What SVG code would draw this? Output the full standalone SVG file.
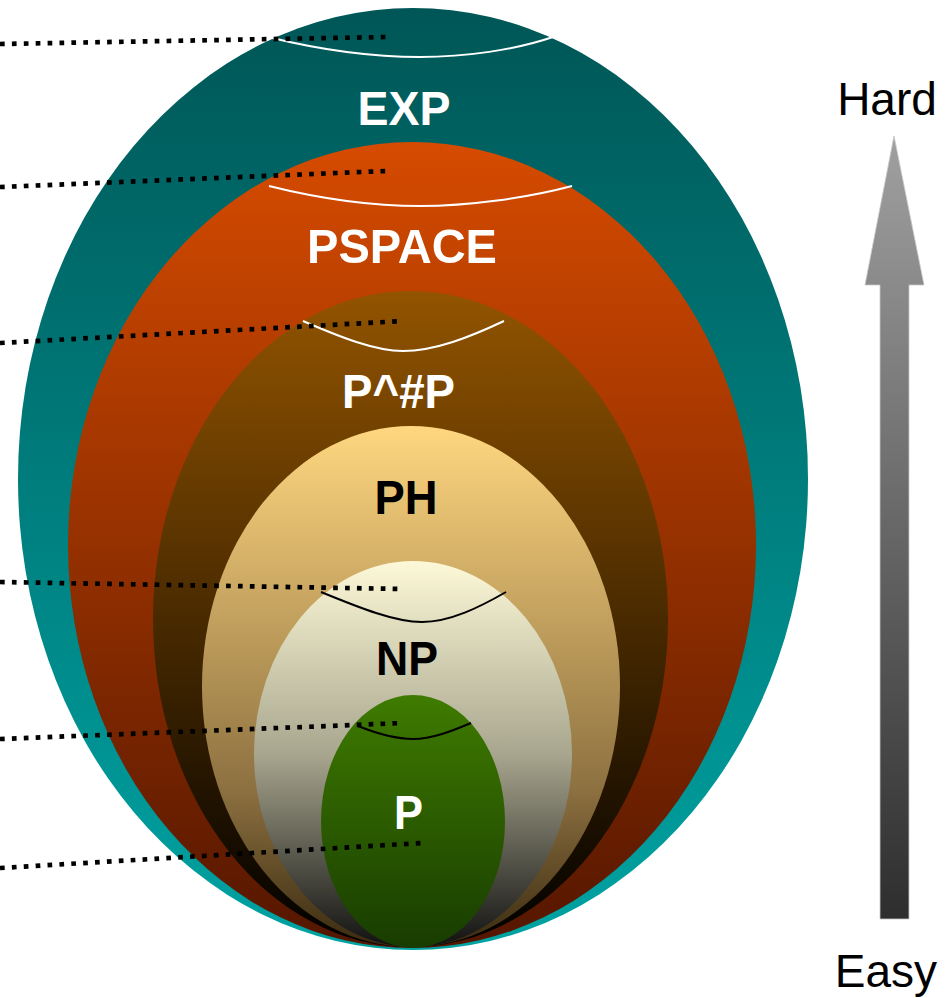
<svg xmlns="http://www.w3.org/2000/svg" width="952" height="998" viewBox="0 0 952 998">
<defs>
<linearGradient id="gExp" x1="0" y1="0" x2="0" y2="1"><stop offset="0" stop-color="#005656"/><stop offset="1" stop-color="#00a3a3"/></linearGradient>
<linearGradient id="gPs" x1="0" y1="0" x2="0" y2="1"><stop offset="0" stop-color="#d64b00"/><stop offset="1" stop-color="#541600"/></linearGradient>
<linearGradient id="gSp" x1="0" y1="0" x2="0" y2="1"><stop offset="0" stop-color="#925400"/><stop offset="1" stop-color="#000000"/></linearGradient>
<linearGradient id="gPh" x1="0" y1="0" x2="0" y2="1"><stop offset="0" stop-color="#ffd780"/><stop offset="0.7" stop-color="#8c7040"/><stop offset="1" stop-color="#3a2a10"/></linearGradient>
<linearGradient id="gNp" x1="0" y1="0" x2="0" y2="1"><stop offset="0" stop-color="#fdf9d8"/><stop offset="0.5" stop-color="#a8a68e"/><stop offset="1" stop-color="#111111"/></linearGradient>
<linearGradient id="gP" x1="0" y1="0" x2="0" y2="1"><stop offset="0" stop-color="#3f7b00"/><stop offset="1" stop-color="#183c00"/></linearGradient>
<linearGradient id="gArrow" gradientUnits="userSpaceOnUse" x1="0" y1="136" x2="0" y2="919"><stop offset="0" stop-color="#a0a0a0"/><stop offset="1" stop-color="#2e2e2e"/></linearGradient>
</defs>
<style>
.lbl{font-family:"Liberation Sans",Arial,sans-serif;font-weight:bold;font-size:49px;text-anchor:middle}
.w{fill:#ffffff}
.k{fill:#000000}
.side{font-family:"Liberation Sans",Arial,sans-serif;font-size:46px;text-anchor:middle;fill:#000000}
.bnd{fill:none;stroke-width:2}
.dot{stroke:#000000;stroke-width:4.7;stroke-dasharray:4.7 7.2;fill:none}
</style>
<rect width="952" height="998" fill="#ffffff"/>
<g id="exp"><ellipse cx="413" cy="479" rx="395" ry="471" fill="url(#gExp)"/></g>
<g id="pspace"><ellipse cx="412" cy="545" rx="344" ry="403" fill="url(#gPs)"/></g>
<g id="psharpp"><ellipse cx="410.5" cy="619" rx="257.5" ry="328" fill="url(#gSp)"/></g>
<g id="ph"><ellipse cx="411" cy="686.5" rx="209" ry="260.5" fill="url(#gPh)"/></g>
<g id="np"><ellipse cx="413" cy="754" rx="159" ry="193" fill="url(#gNp)"/></g>
<g id="p"><ellipse cx="413" cy="821.5" rx="92" ry="126.5" fill="url(#gP)"/></g>
<g id="boundaries">
<path class="bnd" stroke="#ffffff" d="M268,37 C325,51 375,57 420,57 C465,57 515,50 553,37"/>
<path class="bnd" stroke="#ffffff" d="M269,186 C325,200 375,206 420,206 C468,206 527,198 572,186"/>
<path class="bnd" stroke="#ffffff" d="M303,321 C340,337 375,351 403,351 C435,351 470,337 504,321"/>
<path class="bnd" stroke="#000000" d="M321,592 C360,608 395,622 422,622 C450,622 480,607 506,592"/>
<path class="bnd" stroke="#000000" d="M358,726 C378,734 395,739 413,739 C432,739 452,731 471,723"/>
</g>
<g id="labels">
<text class="lbl w" x="404" y="125" textLength="93" lengthAdjust="spacingAndGlyphs">EXP</text>
<text class="lbl w" x="402" y="263" textLength="190" lengthAdjust="spacingAndGlyphs">PSPACE</text>
<text class="lbl w" x="398.5" y="408" textLength="113" lengthAdjust="spacingAndGlyphs">P^#P</text>
<text class="lbl k" x="406" y="514" textLength="63" lengthAdjust="spacingAndGlyphs">PH</text>
<text class="lbl k" x="407" y="675" textLength="62" lengthAdjust="spacingAndGlyphs">NP</text>
<text class="lbl w" x="408.5" y="829" textLength="29" lengthAdjust="spacingAndGlyphs">P</text>
</g>
<g id="connectors">
<line class="dot" x1="0" y1="44" x2="386" y2="37"/>
<line class="dot" x1="0" y1="187" x2="386" y2="171"/>
<line class="dot" x1="0" y1="343" x2="403" y2="321"/>
<line class="dot" x1="0" y1="582" x2="403" y2="589"/>
<line class="dot" x1="0" y1="739" x2="404" y2="723"/>
<line class="dot" x1="0" y1="868" x2="422" y2="843"/>
</g>
<g id="difficulty-arrow">
<polygon points="894,136 924,285 909,285 909,919 880,919 880,285 865,285" fill="url(#gArrow)" stroke="#c8c8c8" stroke-width="0.8"/>
<text class="side" x="887" y="115">Hard</text>
<text class="side" x="886" y="987">Easy</text>
</g>
</svg>
